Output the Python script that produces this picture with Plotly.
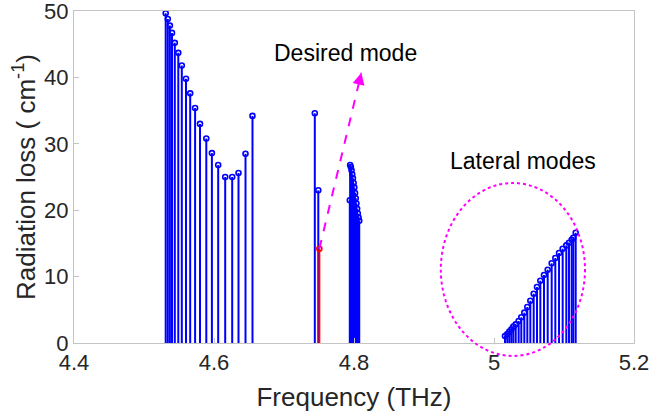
import plotly.graph_objects as go

# Left group of modes
left_freq = [4.531, 4.534, 4.537, 4.540, 4.544, 4.549, 4.554, 4.560, 4.566, 4.573,
             4.580, 4.589, 4.597, 4.606, 4.616, 4.626, 4.635, 4.645, 4.655]
left_loss = [49.65, 48.8, 47.8, 46.7, 45.2, 43.7, 41.8, 39.8, 37.6, 35.4,
             33.0, 30.8, 28.6, 26.8, 25.0, 25.0, 25.6, 28.5, 34.2]

# Middle modes
mid_freq = [4.744, 4.749]
mid_loss = [34.6, 23.0]

# Desired mode (red)
desired_freq = [4.7505]
desired_loss = [14.2]

# Dense cluster near 4.8 THz
dense_freq = [4.7940, 4.7945, 4.7955, 4.7965, 4.7975, 4.7985, 4.7995, 4.8005,
              4.8015, 4.8025, 4.8035, 4.8045, 4.8055, 4.8065, 4.8075]
dense_loss = [21.5, 26.8, 26.5, 26.0, 25.4, 24.8, 24.1, 23.4,
              22.6, 21.8, 21.0, 20.2, 19.5, 18.9, 18.4]

# Lateral modes
lat_freq = [5.0157, 5.0190, 5.0219, 5.0248, 5.0276, 5.0310, 5.0352, 5.0390, 5.0433,
            5.0476, 5.0519, 5.0567, 5.0614, 5.0662, 5.0714, 5.0767, 5.0824, 5.0876,
            5.0929, 5.0981, 5.1033, 5.1071, 5.1110, 5.1133, 5.1167]
lat_loss = [1.05, 1.36, 1.71, 2.06, 2.46, 2.81, 3.31, 3.87, 4.57,
            5.42, 6.37, 7.42, 8.43, 9.38, 10.24, 11.04, 12.0, 12.8,
            13.55, 14.2, 14.7, 15.1, 15.56, 15.86, 16.6]

x_ticks = [4.4, 4.6, 4.8, 5.0, 5.2]
x_ticktext = ["4.4", "4.6", "4.8", "5", "5.2"]
y_ticks = [0, 10, 20, 30, 40, 50]

BLUE = "#0000ff"
RED = "#ff0000"
MAG = "#ff00ff"
FONT = "Liberation Sans, Arial, sans-serif"


def stems(xs, ys):
    sx, sy = [], []
    for x, y in zip(xs, ys):
        sx += [x, x, None]
        sy += [0, y, None]
    return sx, sy


fig = go.Figure()

blue_freq = left_freq + mid_freq + dense_freq + lat_freq
blue_loss = left_loss + mid_loss + dense_loss + lat_loss

sx, sy = stems(blue_freq, blue_loss)
fig.add_trace(go.Scatter(x=sx, y=sy, mode="lines", line=dict(color=BLUE, width=2),
                         hoverinfo="skip", showlegend=False))
fig.add_trace(go.Scatter(x=blue_freq, y=blue_loss, mode="markers",
                         marker=dict(symbol="circle-open", size=5, color=BLUE,
                                     line=dict(width=1.6, color=BLUE)),
                         showlegend=False, cliponaxis=False))

rx, ry = stems(desired_freq, desired_loss)
fig.add_trace(go.Scatter(x=rx, y=ry, mode="lines", line=dict(color=RED, width=2),
                         hoverinfo="skip", showlegend=False))
fig.add_trace(go.Scatter(x=desired_freq, y=desired_loss, mode="markers",
                         marker=dict(symbol="circle-open", size=5, color=RED,
                                     line=dict(width=1.6, color=RED)),
                         showlegend=False))

# Dashed arrow for desired mode
arrow_start = (4.7505, 14.2)
arrow_end = (4.8105, 40.7)
fig.add_shape(type="line", xref="x", yref="y",
              x0=arrow_start[0], y0=arrow_start[1], x1=arrow_end[0], y1=arrow_end[1],
              line=dict(color=MAG, width=2, dash="dash"))
fig.add_annotation(x=arrow_end[0], y=arrow_end[1], xref="x", yref="y",
                   ax=-2.3, ay=9.7, axref="pixel", ayref="pixel",
                   showarrow=True, arrowhead=2, arrowsize=1.2, arrowwidth=2,
                   arrowcolor=MAG, text=" ", font=dict(size=1))

# Dotted ellipse around lateral modes (paper coords so it is not clipped)
fig.add_shape(type="circle", xref="paper", yref="paper",
              x0=0.655, x1=0.9125, y0=-0.039, y1=0.482,
              line=dict(color=MAG, width=2, dash="dot"))

fig.add_annotation(x=0.4848, y=0.8735, xref="paper", yref="paper",
                   xanchor="center", yanchor="middle",
                   text="Desired mode", showarrow=False,
                   font=dict(family=FONT, size=23, color="#000000"))
fig.add_annotation(x=0.8018, y=0.548, xref="paper", yref="paper",
                   xanchor="center", yanchor="middle",
                   text="Lateral modes", showarrow=False,
                   font=dict(family=FONT, size=23, color="#000000"))

axis_common = dict(showline=True, mirror=True, linecolor="#c4c4c4", linewidth=1,
                   ticks="inside", ticklen=5, tickcolor="#c4c4c4", showgrid=False,
                   zeroline=False, automargin=False, ticklabeloverflow="allow",
                   tickfont=dict(family=FONT, size=22, color="#262626"))

fig.update_xaxes(range=[4.4, 5.2], tickvals=x_ticks, ticktext=x_ticktext,
                 title=dict(text="Frequency (THz)", font=dict(family=FONT, size=26, color="#262626"),
                            standoff=13),
                 **axis_common)
fig.update_yaxes(range=[0, 50], tickvals=y_ticks, ticktext=[str(v) for v in y_ticks],
                 title=dict(text="Radiation loss ( cm<sup>-1</sup>)",
                            font=dict(family=FONT, size=26, color="#262626"), standoff=1),
                 **axis_common)

fig.update_layout(template="none", width=654, height=419,
                  margin=dict(l=74, r=20, t=11, b=76, autoexpand=False),
                  plot_bgcolor="white", paper_bgcolor="white",
                  font=dict(family=FONT))

fig.write_html("out.html", config={"displayModeBar": False},
               post_script="document.body.style.margin='0';document.body.style.overflow='hidden';")
